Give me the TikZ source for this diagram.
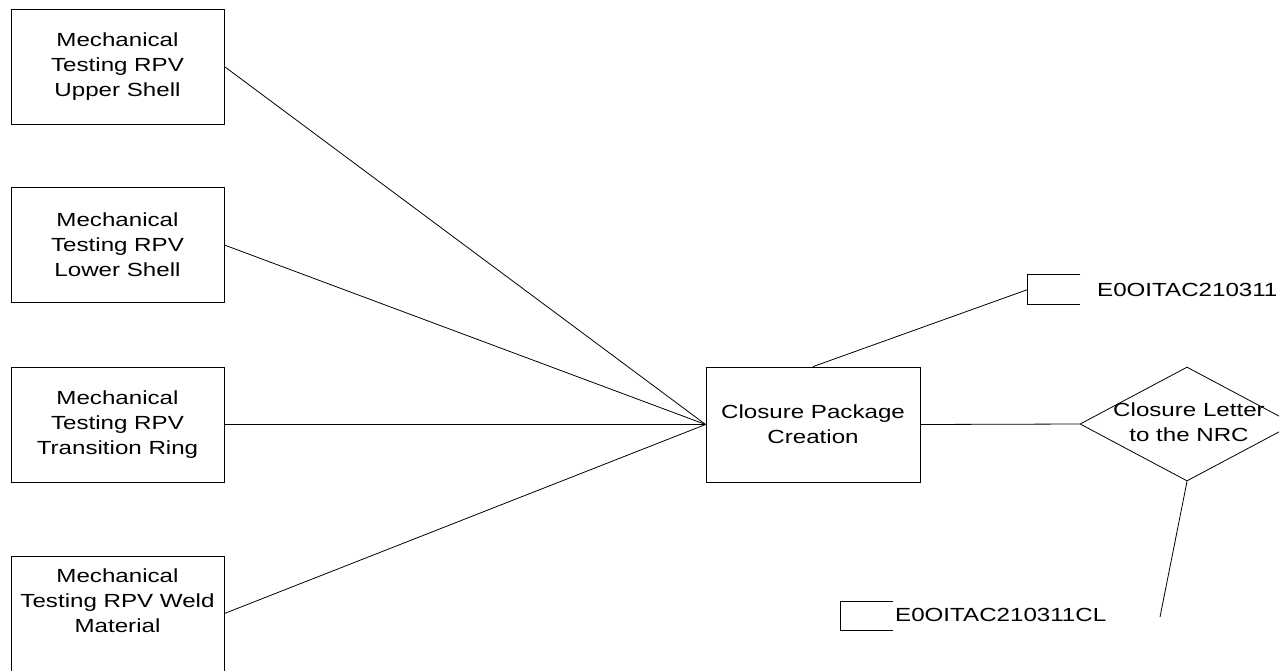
\documentclass[tikz,border=0pt]{standalone}
\usepackage{fontspec}
\setmainfont{Liberation Sans}[FakeStretch=1.27]
\usetikzlibrary{shapes.geometric}
\begin{document}
\begin{tikzpicture}[x=1pt,y=-1pt,
  every node/.style={font=\fontsize{19}{25}\selectfont},
  procbox/.style={draw, line width=0.8pt, rectangle, inner sep=0pt,
    minimum width=213pt, minimum height=115pt, align=center},
  decbox/.style={draw, line width=0.8pt, diamond, inner sep=0pt,
    minimum width=214pt, minimum height=114pt},
  txt/.style={align=center, inner sep=0pt},
  tag/.style={rectangle, inner sep=0pt, minimum width=52pt, minimum height=29pt},
  link/.style={line width=0.8pt},
]
\useasboundingbox (0,0) rectangle (1279,670);
\clip (0,0) rectangle (1279,670);

% input activities
\node[procbox] (b1) at (117.5,66.5) {Mechanical\\Testing RPV\\Upper Shell};
\node[procbox] (b2) at (117.5,245) {Mechanical\\Testing RPV\\Lower Shell};
\node[procbox] (b3) at (117.5,424.5) {Mechanical\\Testing RPV\\Transition Ring};
\node[procbox] (b4) at (117.5,613.5) {};
\node[txt] (b4t) at (117.5,601) {Mechanical\\Testing RPV Weld\\Material};

% closure package
\node[procbox, minimum width=214pt] (cp) at (813,424.5) {Closure Package\\Creation};

% closure letter decision
\node[decbox] (dl) at (1187,424) {};
\node[txt] (dlt) at (1189,422) {Closure Letter\\to the NRC};

% document tags
\node[tag] (l1) at (1054,289.5) {};
\node[txt, anchor=west] (l1t) at (1097,289.5) {E0OITAC210311};
\node[tag] (l2) at (866.5,616) {};
\node[txt, anchor=west] (l2t) at (895,615) {E0OITAC210311CL};
\coordinate (l2end) at (1160,617);

\foreach \t in {l1,l2}
  \draw[link] (\t.north east) -- (\t.north west) -- (\t.south west) -- (\t.south east);

% connectors
\foreach \b in {b1,b2,b3,b4}
  \draw[link] (\b.east) -- (cp.west);
\draw[link] (cp.north) -- (l1.west);
\draw[link] (cp.east) -- (dl.west);
\draw[link] (dl.south) -- (l2end);
\end{tikzpicture}
\end{document}
